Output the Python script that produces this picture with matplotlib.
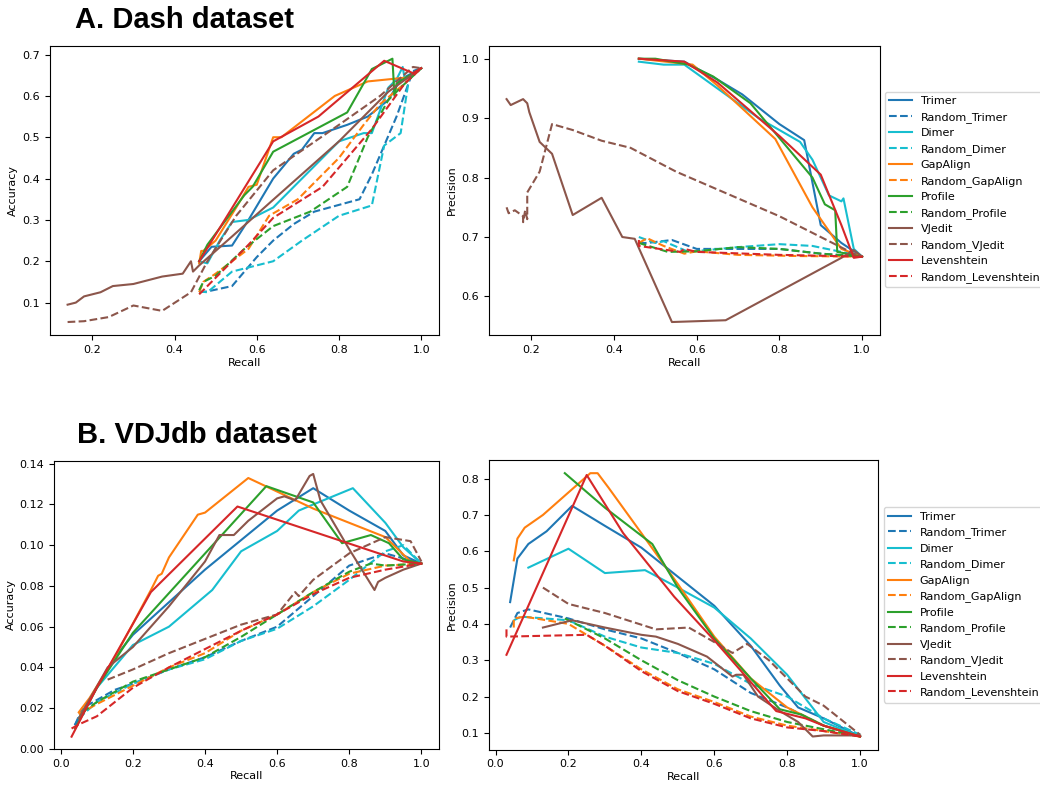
import matplotlib
matplotlib.use("Agg")
import matplotlib.pyplot as plt

# Data: each series is [recall values, metric values]
methods = ["Trimer", "Dimer", "GapAlign", "Profile", "VJedit", "Levenshtein"]
colors = ["#1f77b4", "#17becf", "#ff7f0e", "#2ca02c", "#8c564b", "#d62728"]

# A. Dash dataset - accuracy
dash_acc_trimer = [[0.46, 0.49, 0.54, 0.58, 0.64, 0.69, 0.71, 0.74, 0.76, 0.82, 0.87, 0.92, 0.95, 1.0],
                   [0.20, 0.235, 0.238, 0.30, 0.40, 0.46, 0.47, 0.51, 0.51, 0.53, 0.55, 0.59, 0.64, 0.667]]
dash_acc_dimer = [[0.46, 0.48, 0.51, 0.54, 0.58, 0.64, 0.73, 0.80, 0.86, 0.88, 0.92, 0.94, 0.955, 0.96, 1.0],
                  [0.20, 0.195, 0.25, 0.295, 0.30, 0.33, 0.42, 0.49, 0.51, 0.51, 0.62, 0.64, 0.67, 0.64, 0.667]]
dash_acc_gapalign = [[0.46, 0.465, 0.47, 0.50, 0.55, 0.58, 0.60, 0.64, 0.66, 0.79, 0.87, 0.97, 1.0],
                     [0.195, 0.225, 0.225, 0.25, 0.33, 0.38, 0.385, 0.50, 0.50, 0.60, 0.635, 0.645, 0.667]]
dash_acc_profile = [[0.46, 0.48, 0.57, 0.59, 0.64, 0.82, 0.88, 0.93, 0.935, 0.94, 1.0],
                    [0.20, 0.24, 0.36, 0.38, 0.465, 0.56, 0.665, 0.69, 0.60, 0.63, 0.667]]
dash_acc_vjedit = [[0.14, 0.16, 0.18, 0.22, 0.25, 0.30, 0.37, 0.42, 0.44, 0.445, 0.46, 0.54, 0.63, 0.80, 0.92, 1.0],
                   [0.095, 0.10, 0.115, 0.125, 0.14, 0.145, 0.163, 0.17, 0.20, 0.175, 0.19, 0.26, 0.34, 0.49, 0.61, 0.667]]
dash_acc_lev = [[0.46, 0.64, 0.75, 0.91, 0.98, 1.0],
                [0.20, 0.49, 0.55, 0.685, 0.655, 0.667]]
dash_acc_rnd_trimer = [[0.46, 0.48, 0.54, 0.60, 0.64, 0.69, 0.74, 0.85, 0.88, 0.94, 0.98, 1.0],
                       [0.125, 0.127, 0.14, 0.21, 0.25, 0.29, 0.32, 0.35, 0.41, 0.55, 0.66, 0.667]]
dash_acc_rnd_dimer = [[0.46, 0.48, 0.54, 0.58, 0.64, 0.71, 0.80, 0.88, 0.91, 0.95, 0.97, 1.0],
                      [0.127, 0.125, 0.175, 0.185, 0.20, 0.25, 0.31, 0.335, 0.48, 0.51, 0.64, 0.667]]
dash_acc_rnd_gapalign = [[0.46, 0.47, 0.50, 0.54, 0.58, 0.63, 0.70, 0.80, 0.86, 0.90, 0.96, 1.0],
                         [0.125, 0.15, 0.17, 0.20, 0.23, 0.31, 0.35, 0.45, 0.53, 0.58, 0.63, 0.667]]
dash_acc_rnd_profile = [[0.46, 0.47, 0.50, 0.57, 0.64, 0.73, 0.82, 0.87, 0.92, 0.95, 1.0],
                        [0.13, 0.15, 0.165, 0.23, 0.285, 0.32, 0.38, 0.50, 0.59, 0.62, 0.667]]
dash_acc_rnd_vjedit = [[0.14, 0.18, 0.24, 0.30, 0.37, 0.44, 0.48, 0.55, 0.64, 0.80, 0.90, 0.98, 1.0],
                       [0.053, 0.055, 0.065, 0.093, 0.08, 0.125, 0.20, 0.31, 0.42, 0.53, 0.60, 0.67, 0.667]]
dash_acc_rnd_lev = [[0.46, 0.48, 0.54, 0.58, 0.64, 0.76, 0.88, 0.96, 1.0],
                    [0.12, 0.14, 0.20, 0.24, 0.305, 0.38, 0.52, 0.63, 0.667]]

# A. Dash dataset - precision
dash_prec_trimer = [[0.46, 0.57, 0.65, 0.71, 0.80, 0.86, 0.90, 0.95, 1.0],
                    [1.0, 0.995, 0.965, 0.94, 0.89, 0.863, 0.72, 0.69, 0.667]]
dash_prec_dimer = [[0.46, 0.52, 0.57, 0.65, 0.75, 0.85, 0.88, 0.92, 0.95, 0.955, 0.98, 1.0],
                   [0.995, 0.99, 0.99, 0.95, 0.90, 0.86, 0.83, 0.77, 0.76, 0.765, 0.68, 0.667]]
dash_prec_gapalign = [[0.46, 0.59, 0.65, 0.79, 0.88, 0.95, 1.0],
                      [1.0, 0.99, 0.955, 0.865, 0.75, 0.68, 0.667]]
dash_prec_profile = [[0.46, 0.50, 0.58, 0.64, 0.73, 0.82, 0.88, 0.91, 0.935, 0.94, 1.0],
                     [1.0, 1.0, 0.99, 0.97, 0.925, 0.85, 0.80, 0.755, 0.745, 0.675, 0.667]]
dash_prec_vjedit = [[0.14, 0.15, 0.18, 0.19, 0.195, 0.22, 0.25, 0.30, 0.37, 0.42, 0.45, 0.54, 0.67, 0.95, 0.98, 1.0],
                    [0.932, 0.922, 0.932, 0.925, 0.91, 0.86, 0.84, 0.737, 0.766, 0.70, 0.697, 0.557, 0.56, 0.665, 0.678, 0.667]]
dash_prec_lev = [[0.46, 0.57, 0.65, 0.80, 0.90, 0.95, 0.98, 1.0],
                 [1.0, 0.995, 0.96, 0.87, 0.805, 0.72, 0.665, 0.667]]
dash_prec_rnd_trimer = [[0.46, 0.48, 0.54, 0.60, 0.70, 0.80, 0.90, 1.0],
                        [0.69, 0.69, 0.695, 0.68, 0.68, 0.68, 0.672, 0.667]]
dash_prec_rnd_dimer = [[0.46, 0.50, 0.52, 0.58, 0.70, 0.80, 0.88, 0.95, 1.0],
                       [0.70, 0.69, 0.693, 0.675, 0.683, 0.688, 0.685, 0.675, 0.667]]
dash_prec_rnd_gapalign = [[0.46, 0.48, 0.52, 0.57, 0.60, 0.70, 0.85, 1.0],
                          [0.69, 0.698, 0.685, 0.672, 0.676, 0.67, 0.668, 0.667]]
dash_prec_rnd_profile = [[0.46, 0.53, 0.60, 0.70, 0.80, 0.90, 1.0],
                         [0.69, 0.675, 0.676, 0.683, 0.68, 0.672, 0.667]]
dash_prec_rnd_vjedit = [[0.14, 0.145, 0.16, 0.18, 0.18, 0.185, 0.19, 0.19, 0.22, 0.25, 0.30, 0.37, 0.44, 0.55, 0.65, 0.80, 0.90, 0.98, 1.0],
                        [0.75, 0.74, 0.745, 0.735, 0.725, 0.745, 0.73, 0.775, 0.81, 0.89, 0.88, 0.862, 0.85, 0.81, 0.78, 0.735, 0.70, 0.672, 0.667]]
dash_prec_rnd_lev = [[0.46, 0.46, 0.56, 0.57, 0.60, 0.80, 1.0],
                     [0.695, 0.685, 0.675, 0.68, 0.675, 0.67, 0.667]]

# B. VDJdb dataset - accuracy
vdj_acc_trimer = [[0.04, 0.06, 0.10, 0.15, 0.20, 0.40, 0.60, 0.70, 0.80, 0.86, 0.90, 0.95, 1.0],
                  [0.012, 0.018, 0.03, 0.045, 0.056, 0.088, 0.117, 0.128, 0.117, 0.111, 0.107, 0.095, 0.091]]
vdj_acc_dimer = [[0.05, 0.10, 0.20, 0.30, 0.42, 0.50, 0.60, 0.66, 0.70, 0.81, 0.90, 0.95, 1.0],
                 [0.015, 0.03, 0.051, 0.06, 0.078, 0.097, 0.107, 0.117, 0.12, 0.128, 0.111, 0.099, 0.091]]
vdj_acc_gapalign = [[0.05, 0.08, 0.15, 0.25, 0.27, 0.28, 0.30, 0.38, 0.40, 0.52, 0.70, 0.90, 0.97, 1.0],
                    [0.018, 0.025, 0.045, 0.078, 0.085, 0.086, 0.094, 0.115, 0.116, 0.133, 0.118, 0.104, 0.092, 0.091]]
vdj_acc_profile = [[0.04, 0.10, 0.20, 0.57, 0.70, 0.78, 0.86, 0.91, 0.95, 1.0],
                   [0.01, 0.03, 0.057, 0.129, 0.121, 0.101, 0.105, 0.101, 0.093, 0.091]]
vdj_acc_vjedit = [[0.05, 0.13, 0.20, 0.30, 0.40, 0.44, 0.48, 0.52, 0.60, 0.62, 0.65, 0.69, 0.70, 0.72, 0.80, 0.87, 0.88, 0.90, 0.95, 1.0],
                  [0.015, 0.04, 0.05, 0.07, 0.092, 0.105, 0.105, 0.112, 0.123, 0.124, 0.122, 0.134, 0.135, 0.122, 0.098, 0.078, 0.082, 0.084, 0.088, 0.091]]
vdj_acc_lev = [[0.03, 0.10, 0.25, 0.49, 0.95, 1.0],
               [0.006, 0.03, 0.077, 0.119, 0.092, 0.091]]
vdj_acc_rnd_trimer = [[0.04, 0.06, 0.10, 0.15, 0.20, 0.30, 0.40, 0.50, 0.60, 0.70, 0.80, 0.90, 1.0],
                      [0.012, 0.02, 0.024, 0.029, 0.032, 0.039, 0.045, 0.053, 0.06, 0.075, 0.09, 0.096, 0.091]]
vdj_acc_rnd_dimer = [[0.05, 0.10, 0.20, 0.30, 0.40, 0.50, 0.60, 0.70, 0.80, 0.90, 0.95, 1.0],
                     [0.015, 0.023, 0.032, 0.039, 0.044, 0.053, 0.059, 0.07, 0.083, 0.097, 0.10, 0.091]]
vdj_acc_rnd_gapalign = [[0.05, 0.10, 0.20, 0.30, 0.40, 0.50, 0.60, 0.70, 0.80, 0.90, 1.0],
                        [0.017, 0.022, 0.031, 0.04, 0.047, 0.058, 0.066, 0.077, 0.086, 0.09, 0.091]]
vdj_acc_rnd_profile = [[0.06, 0.10, 0.20, 0.30, 0.40, 0.50, 0.60, 0.70, 0.80, 0.86, 0.90, 1.0],
                       [0.018, 0.023, 0.033, 0.039, 0.045, 0.055, 0.066, 0.077, 0.087, 0.091, 0.09, 0.091]]
vdj_acc_rnd_vjedit = [[0.13, 0.20, 0.30, 0.40, 0.50, 0.60, 0.65, 0.66, 0.70, 0.80, 0.90, 0.97, 1.0],
                      [0.034, 0.039, 0.047, 0.054, 0.061, 0.066, 0.077, 0.075, 0.083, 0.096, 0.104, 0.102, 0.092]]
vdj_acc_rnd_lev = [[0.03, 0.05, 0.10, 0.20, 0.30, 0.40, 0.50, 0.60, 0.70, 0.80, 0.90, 1.0],
                   [0.01, 0.012, 0.016, 0.03, 0.04, 0.049, 0.058, 0.066, 0.076, 0.084, 0.088, 0.091]]

# B. VDJdb dataset - precision
vdj_prec_trimer = [[0.04, 0.06, 0.09, 0.14, 0.21, 0.30, 0.40, 0.50, 0.60, 0.70, 0.78, 0.83, 0.90, 1.0],
                   [0.46, 0.58, 0.62, 0.655, 0.725, 0.67, 0.61, 0.53, 0.45, 0.34, 0.23, 0.17, 0.14, 0.09]]
vdj_prec_dimer = [[0.09, 0.20, 0.30, 0.41, 0.50, 0.60, 0.70, 0.80, 0.90, 1.0],
                  [0.555, 0.607, 0.54, 0.548, 0.50, 0.445, 0.36, 0.26, 0.13, 0.09]]
vdj_prec_gapalign = [[0.05, 0.06, 0.08, 0.13, 0.26, 0.28, 0.31, 0.40, 0.50, 0.60, 0.70, 0.80, 0.90, 1.0],
                     [0.575, 0.635, 0.665, 0.70, 0.815, 0.815, 0.775, 0.65, 0.51, 0.365, 0.25, 0.17, 0.12, 0.09]]
vdj_prec_profile = [[0.19, 0.30, 0.43, 0.50, 0.60, 0.70, 0.78, 0.84, 0.90, 1.0],
                    [0.815, 0.72, 0.62, 0.50, 0.36, 0.25, 0.165, 0.15, 0.12, 0.09]]
vdj_prec_vjedit = [[0.13, 0.21, 0.30, 0.40, 0.44, 0.50, 0.58, 0.65, 0.66, 0.68, 0.72, 0.78, 0.83, 0.87, 0.90, 1.0],
                   [0.39, 0.41, 0.39, 0.37, 0.365, 0.345, 0.31, 0.255, 0.26, 0.26, 0.20, 0.16, 0.13, 0.09, 0.093, 0.093]]
vdj_prec_lev = [[0.03, 0.25, 0.35, 0.49, 0.60, 0.70, 0.77, 0.85, 0.90, 1.0],
                [0.315, 0.81, 0.65, 0.475, 0.355, 0.24, 0.16, 0.14, 0.12, 0.09]]
vdj_prec_rnd_trimer = [[0.04, 0.06, 0.09, 0.20, 0.30, 0.40, 0.50, 0.60, 0.70, 0.80, 0.90, 1.0],
                       [0.39, 0.43, 0.44, 0.415, 0.385, 0.36, 0.32, 0.275, 0.21, 0.17, 0.12, 0.09]]
vdj_prec_rnd_dimer = [[0.05, 0.07, 0.20, 0.30, 0.40, 0.50, 0.60, 0.70, 0.80, 0.90, 1.0],
                      [0.41, 0.42, 0.41, 0.365, 0.335, 0.32, 0.29, 0.235, 0.20, 0.14, 0.095]]
vdj_prec_rnd_gapalign = [[0.05, 0.05, 0.08, 0.20, 0.30, 0.40, 0.50, 0.60, 0.70, 0.80, 0.90, 1.0],
                         [0.39, 0.415, 0.42, 0.40, 0.34, 0.275, 0.22, 0.185, 0.145, 0.12, 0.105, 0.09]]
vdj_prec_rnd_profile = [[0.19, 0.30, 0.40, 0.50, 0.60, 0.70, 0.80, 0.90, 1.0],
                        [0.415, 0.36, 0.30, 0.245, 0.20, 0.16, 0.13, 0.11, 0.09]]
vdj_prec_rnd_vjedit = [[0.13, 0.20, 0.30, 0.44, 0.53, 0.60, 0.65, 0.69, 0.75, 0.85, 0.90, 1.0],
                       [0.50, 0.455, 0.43, 0.385, 0.39, 0.35, 0.32, 0.345, 0.30, 0.20, 0.175, 0.095]]
vdj_prec_rnd_lev = [[0.03, 0.03, 0.25, 0.30, 0.40, 0.50, 0.60, 0.70, 0.80, 0.90, 1.0],
                    [0.385, 0.365, 0.37, 0.34, 0.27, 0.215, 0.18, 0.14, 0.115, 0.105, 0.09]]

panels = {
    "dash_acc": ([dash_acc_trimer, dash_acc_dimer, dash_acc_gapalign, dash_acc_profile, dash_acc_vjedit, dash_acc_lev],
                 [dash_acc_rnd_trimer, dash_acc_rnd_dimer, dash_acc_rnd_gapalign, dash_acc_rnd_profile, dash_acc_rnd_vjedit, dash_acc_rnd_lev]),
    "dash_prec": ([dash_prec_trimer, dash_prec_dimer, dash_prec_gapalign, dash_prec_profile, dash_prec_vjedit, dash_prec_lev],
                  [dash_prec_rnd_trimer, dash_prec_rnd_dimer, dash_prec_rnd_gapalign, dash_prec_rnd_profile, dash_prec_rnd_vjedit, dash_prec_rnd_lev]),
    "vdj_acc": ([vdj_acc_trimer, vdj_acc_dimer, vdj_acc_gapalign, vdj_acc_profile, vdj_acc_vjedit, vdj_acc_lev],
                [vdj_acc_rnd_trimer, vdj_acc_rnd_dimer, vdj_acc_rnd_gapalign, vdj_acc_rnd_profile, vdj_acc_rnd_vjedit, vdj_acc_rnd_lev]),
    "vdj_prec": ([vdj_prec_trimer, vdj_prec_dimer, vdj_prec_gapalign, vdj_prec_profile, vdj_prec_vjedit, vdj_prec_lev],
                 [vdj_prec_rnd_trimer, vdj_prec_rnd_dimer, vdj_prec_rnd_gapalign, vdj_prec_rnd_profile, vdj_prec_rnd_vjedit, vdj_prec_rnd_lev]),
}

plt.rcParams['font.size'] = 8

fig = plt.figure(figsize=(10.4, 7.85), dpi=100)
ax_a1 = fig.add_axes([0.048, 0.573, 0.374, 0.369])
ax_a2 = fig.add_axes([0.470, 0.573, 0.376, 0.369])
ax_b1 = fig.add_axes([0.052, 0.046, 0.370, 0.367])
ax_b2 = fig.add_axes([0.470, 0.045, 0.374, 0.369])


def draw(ax, key, ylabel):
    real, rnd = panels[key]
    for name, c, s, r in zip(methods, colors, real, rnd):
        ax.plot(s[0], s[1], '-', color=c, linewidth=1.5, label=name)
        ax.plot(r[0], r[1], '--', color=c, linewidth=1.5, label='Random_' + name)
    ax.set_xlabel('Recall', fontsize=8, labelpad=2)
    ax.set_ylabel(ylabel, fontsize=8, labelpad=3)
    ax.tick_params(labelsize=8)


draw(ax_a1, "dash_acc", 'Accuracy')
draw(ax_a2, "dash_prec", 'Precision')
draw(ax_b1, "vdj_acc", 'Accuracy')
draw(ax_b2, "vdj_prec", 'Precision')
ax_b1.set_ylim(bottom=0)

ax_a2.legend(loc='upper left', bbox_to_anchor=(0.851, 0.883), bbox_transform=fig.transFigure,
             fontsize=8, borderaxespad=0)
ax_b2.legend(loc='upper left', bbox_to_anchor=(0.850, 0.354), bbox_transform=fig.transFigure,
             fontsize=8, borderaxespad=0)

fig.text(0.072, 1 - 28 / 785, 'A. Dash dataset', fontsize=21, fontweight='bold',
         family='Liberation Sans', va='baseline')
fig.text(0.074, 1 - 443 / 785, 'B. VDJdb dataset', fontsize=21, fontweight='bold',
         family='Liberation Sans', va='baseline')

fig.savefig('out.png', dpi=100)
